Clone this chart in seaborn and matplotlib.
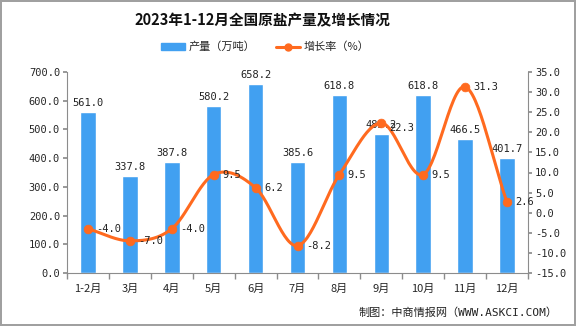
import numpy as np
import pandas as pd
import matplotlib
matplotlib.use("Agg")
import matplotlib.pyplot as plt
import seaborn as sns
from matplotlib.patches import Patch
from matplotlib.lines import Line2D

months = ["1-2月", "3月", "4月", "5月", "6月", "7月", "8月", "9月", "10月", "11月", "12月"]
output = [561.0, 337.8, 387.8, 580.2, 658.2, 385.6, 618.8, 485.2, 618.8, 466.5, 401.7]
growth = [-4.0, -7.0, -4.0, 9.5, 6.2, -8.2, 9.5, 22.3, 9.5, 31.3, 2.6]
left_ticks = [0, 100, 200, 300, 400, 500, 600, 700]
right_ticks = [-15, -10, -5, 0, 5, 10, 15, 20, 25, 30, 35]

BAR = "#41A0F1"
LINE = "#FF6A1F"
GREY = "#8C8C8C"
MONO = ['DejaVu Sans Mono', 'Noto Sans CJK SC']

sns.set_theme(style="white")
plt.rcParams['font.family'] = ['Noto Sans CJK SC', 'DejaVu Sans']

df = pd.DataFrame({"month": months, "output": output, "growth": growth})

fig = plt.figure(figsize=(5.76, 3.26), dpi=100)
fig.patch.set_edgecolor("#A0A0A0")
fig.patch.set_linewidth(1.5)
ax = fig.add_axes([67/576, 1-273/326, (528-67)/576, (273-72)/326])

sns.barplot(data=df, x="month", y="output", color=BAR, width=0.37, ax=ax, saturation=1)
ax.set_ylim(0, 700)
ax.set_xlim(-0.5, len(months) - 0.5)
ax.set_yticks(left_ticks)
ax.set_yticklabels([f"{v:.1f}" for v in left_ticks], family=MONO)
ax.set_xlabel("")
ax.set_ylabel("")
for s in ["top", "right"]:
    ax.spines[s].set_visible(False)
for s in ["left", "bottom"]:
    ax.spines[s].set_color(GREY)
    ax.spines[s].set_linewidth(0.8)
ax.tick_params(axis="y", length=3, color=GREY, labelsize=7.5, pad=2, left=True)
ax.set_xticks(range(len(months)))
ax.set_xticks(np.arange(-0.5, len(months), 1.0), minor=True)
ax.tick_params(axis="x", which="major", length=0, labelsize=8, pad=8)
ax.tick_params(axis="x", which="minor", length=4, color=GREY, bottom=True)

for i, v in enumerate(output):
    ax.text(i, v + 14, f"{v:.1f}", ha="center", va="bottom", fontsize=7.5,
            family=MONO, color="#222222")

ax2 = ax.twinx()
ax2.set_ylim(-15, 35)
ax2.set_yticks(right_ticks)
ax2.set_yticklabels([f"{v:.1f}" for v in right_ticks], family=MONO)
for s in ["top", "left", "bottom"]:
    ax2.spines[s].set_visible(False)
ax2.spines["right"].set_color(GREY)
ax2.spines["right"].set_linewidth(0.8)
ax2.tick_params(axis="y", length=3, color=GREY, labelsize=7.5, pad=2, right=True)
ax2.grid(False)
ax.grid(False)

# smooth (Catmull-Rom) rendering of the growth line
xs = np.arange(len(growth), dtype=float)
ys = np.array(growth, dtype=float)
px = np.concatenate([[2*xs[0]-xs[1]], xs, [2*xs[-1]-xs[-2]]])
py = np.concatenate([[2*ys[0]-ys[1]], ys, [2*ys[-1]-ys[-2]]])
cx, cy = [], []
t = np.linspace(0, 1, 30)
for k in range(1, len(px) - 2):
    p0, p1, p2, p3 = [np.array([px[j], py[j]]) for j in (k-1, k, k+1, k+2)]
    for tt in t:
        pt = 0.5 * ((2*p1) + (-p0 + p2)*tt + (2*p0 - 5*p1 + 4*p2 - p3)*tt**2 + (-p0 + 3*p1 - 3*p2 + p3)*tt**3)
        cx.append(pt[0]); cy.append(pt[1])
ax2.plot(cx, cy, color=LINE, lw=2.2, zorder=3)
sns.scatterplot(x=xs, y=ys, ax=ax2, color=LINE, s=40, edgecolor=LINE, zorder=4, legend=False)
for i, v in enumerate(growth):
    dy = -1.3 if i == 7 else 0
    ax2.text(i + 0.2, v + dy, f"{v:.1f}", ha="left", va="center", fontsize=7.5,
             family=MONO, color="#222222", zorder=5)

fig.text(0.455, 1-20/326, "2023年1-12月全国原盐产量及增长情况", ha="center", va="center",
         fontsize=10.5, fontweight="bold", color="#111111")

handles = [Patch(facecolor=BAR, edgecolor=BAR),
           Line2D([0], [0], color=LINE, lw=2.2, marker="o", markersize=5)]
fig.legend(handles, ["产量（万吨）", "增长率（%）"], loc="center", bbox_to_anchor=(265/576, 1-47/326),
           ncol=2, frameon=False, fontsize=8, handlelength=2.2, handleheight=0.6,
           columnspacing=1.8, handletextpad=0.3)

fig.text(558/576, 1-313/326, "制图：中商情报网（WWW.ASKCI.COM）", ha="right", va="center",
         fontsize=8, family=MONO, color="#222222")

fig.savefig("out.png", dpi=100, edgecolor=fig.get_edgecolor())
